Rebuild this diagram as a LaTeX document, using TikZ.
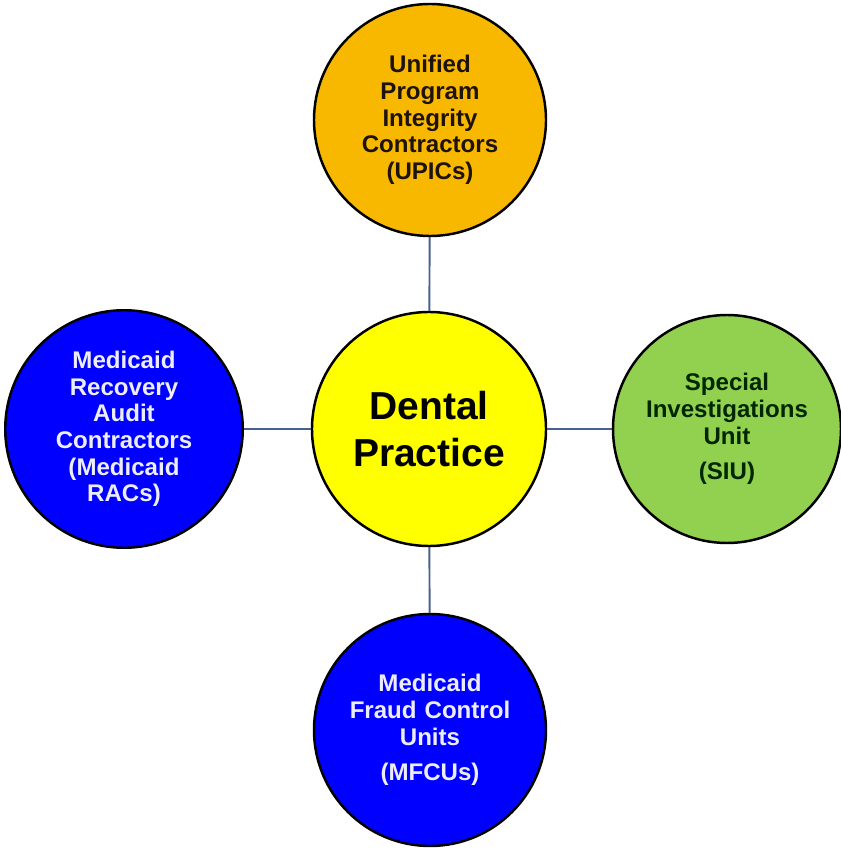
\documentclass[tikz,border=0pt]{standalone}
\usepackage{fontspec}
\setmainfont{Liberation Sans}
\definecolor{upicorange}{HTML}{F9B800}
\definecolor{dentyellow}{HTML}{FFFF00}
\definecolor{siugreen}{HTML}{92D050}
\definecolor{medblue}{HTML}{0000FF}
\definecolor{linkblue}{HTML}{44618F}
\tikzset{
  agency/.style={draw=black,line width=1.4pt,shape=circle,minimum size=4.64cm,
    inner sep=0pt,text width=3.6cm,align=center,
    font=\fontsize{13.7pt}{15.2pt}\selectfont\bfseries},
  link/.style={draw=linkblue,line width=1.1pt}
}
\begin{document}
\begin{tikzpicture}
  \useasboundingbox[fill=white] (0,0) rectangle (16.82,17.02);
  %\draw[step=1cm,gray,very thin] (0,0) grid (17,17);
  \node[agency,fill=dentyellow,minimum size=4.68cm,
    font=\fontsize{22.2pt}{26.7pt}\selectfont\bfseries] (Dent) at (8.58,8.44) {Dental\\Practice};
  \node[agency,fill=upicorange,text=black!85!brown] (UPIC) at (8.6,14.62)
    {Unified\\Program\\Integrity\\Contractors\\(UPICs)};
  \node[agency,fill=medblue,text=white!93!blue] (RAC) at (2.48,8.44)
    {Medicaid\\Recovery\\Audit\\Contractors\\(Medicaid\\RACs)};
  \node[agency,fill=siugreen,text=black!85!green,minimum size=4.56cm] (SIU) at (14.54,8.44)
    {Special\\Investigations\\Unit\\[5pt](SIU)};
  \node[agency,fill=medblue,text=white!93!blue] (MFCU) at (8.6,2.42)
    {Medicaid\\Fraud Control\\Units\\[5pt](MFCUs)};
  \draw[link] (Dent) -- (UPIC);
  \draw[link] (Dent) -- (RAC);
  \draw[link] (Dent) -- (SIU);
  \draw[link] (Dent) -- (MFCU);
\end{tikzpicture}
\end{document}
